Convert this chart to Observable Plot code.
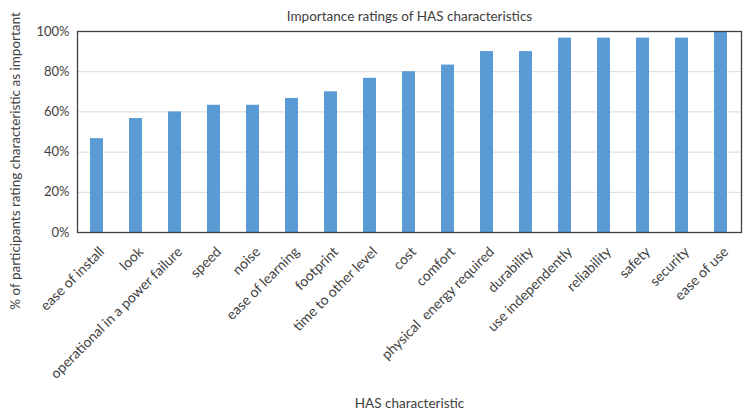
<!DOCTYPE html>
<html>
<head>
<meta charset="utf-8">
<script src="https://cdn.jsdelivr.net/npm/d3@7"></script>
<script src="https://cdn.jsdelivr.net/npm/@observablehq/plot@0.6"></script>
<style>
  html, body { margin: 0; padding: 0; background: #fff; }
  #chart svg { display: block; }
</style>
</head>
<body>
<div id="chart"></div>
<script>
const characteristics = [
  "ease of install", "look", "operational in a power failure", "speed", "noise",
  "ease of learning", "footprint", "time to other level", "cost", "comfort",
  "physical  energy required", "durability", "use independently", "reliability",
  "safety", "security", "ease of use"
];
const percentImportant = [
  46.7, 56.7, 60.0, 63.3, 63.3, 66.7, 70.0, 76.7, 80.0, 83.3,
  90.0, 90.0, 96.7, 96.7, 96.7, 96.7, 100.0
];
const yTicks = [0, 20, 40, 60, 80, 100];
const titleText = "Importance ratings of HAS characteristics";
const xTitle = "HAS characteristic";
const yTitle = "% of participants rating characteristic as important";

const data = characteristics.map((c, i) => ({ name: c, value: percentImportant[i] }));

const font = "Lato, 'Open Sans', sans-serif";

const chart = Plot.plot({
  width: 751,
  height: 419,
  marginTop: 31,
  marginLeft: 77,
  marginRight: 10,
  marginBottom: 187,
  style: { fontFamily: font, fontSize: "13px", color: "#404040", background: "#fff" },
  x: {
    domain: characteristics,
    paddingInner: 0.66,
    paddingOuter: 0.33,
    label: null
  },
  y: {
    domain: [0, 100],
    ticks: yTicks,
    label: null
  },
  marks: [
    Plot.gridY(yTicks, { stroke: "#d9d9d9", strokeOpacity: 1 }),
    Plot.barY(data, { x: "name", y: "value", fill: "#5B9BD5" }),
    Plot.frame({ stroke: "#404040", strokeWidth: 1.3 }),
    Plot.axisY(yTicks, {
      tickSize: 0, tickPadding: 8, tickFormat: d => d + "%",
      fontSize: 13, fill: "#404040", label: null
    }),
    Plot.axisX({
      tickSize: 0, tickRotate: -45, tickPadding: 14, dx: 5, dy: 3, fontSize: 14,
      fill: "#404040", label: null
    }),
    Plot.text([titleText], {
      text: d => d, frameAnchor: "top", dy: -20, fontSize: 13.5, fill: "#404040"
    }),
    Plot.text([xTitle], {
      text: d => d, frameAnchor: "bottom", dy: 175, fontSize: 13.5, fill: "#404040"
    }),
    Plot.text([yTitle], {
      text: d => d, frameAnchor: "left", textAnchor: "middle", dx: -62, dy: 29,
      rotate: -90, fontSize: 13.5, fill: "#404040"
    })
  ]
});
document.getElementById("chart").appendChild(chart);
</script>
</body>
</html>
